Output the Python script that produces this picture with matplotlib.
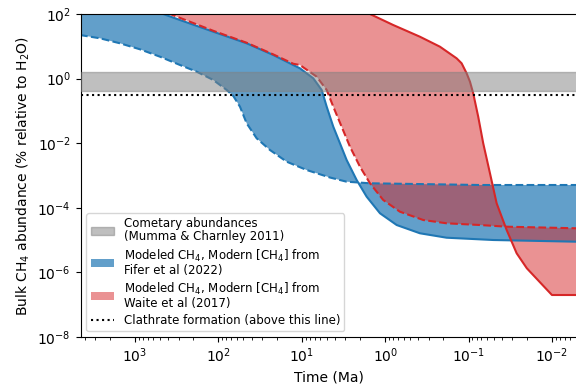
import numpy as np
import matplotlib
matplotlib.use("Agg")
import matplotlib.pyplot as plt
from matplotlib.ticker import FixedLocator, NullLocator, NullFormatter

# curves: log10(time in Ma) and log10(abundance in %)
fifer_lo_lt = [3.659, 3.420, 3.180, 2.940, 2.700, 2.460, 2.260, 2.061, 1.900, 1.821, 1.741, 1.661,
               1.541, 1.381, 1.181, 0.941, 0.662, 0.462, 0.182, -1.137, -2.301]
fifer_lo_ly = [1.350, 1.248, 1.093, 0.907, 0.678, 0.421, 0.214, -0.043, -0.353, -0.539, -0.870, -1.384,
               -1.848, -2.211, -2.573, -2.830, -3.062, -3.192, -3.241, -3.294, -3.294]

fifer_hi_lt = [3.659, 2.661, 2.460, 2.061, 1.661, 1.342, 1.102, 1.022, 0.862, 0.761, 0.701,
               0.622, 0.542, 0.462, 0.342, 0.222, 0.062, -0.138, -0.417, -0.737, -1.296, -2.301]
fifer_hi_ly = [2.867, 2.0, 1.814, 1.452, 1.093, 0.731, 0.421, 0.319, 0.009, -0.353, -0.870,
               -1.489, -2.003, -2.520, -3.139, -3.656, -4.170, -4.533, -4.789, -4.926, -4.997, -5.050]

waite_lo_lt = [3.659, 2.580, 2.061, 1.661, 1.342, 1.102, 1.022, 0.821, 0.701, 0.622, 0.522, 0.422,
               0.302, 0.182, 0.023, -0.177, -0.457, -0.737, -1.137, -1.457, -2.301]
waite_lo_ly = [2.96, 2.0, 1.48, 1.11, 0.75, 0.46, 0.421, 0.059, -0.353, -0.870, -1.489, -2.108,
               -2.728, -3.241, -3.759, -4.121, -4.378, -4.480, -4.533, -4.585, -4.635]

waite_hi_lt = [3.659, 1.0, 0.182, -0.097, -0.417, -0.657, -0.857, -0.917, -0.977, -1.017, -1.056,
               -1.116, -1.176, -1.257, -1.337, -1.457, -1.577, -1.699, -2.0, -2.301]
waite_hi_ly = [5.0, 3.0, 2.0, 1.659, 1.297, 0.988, 0.628, 0.474, 0.164, -0.096, -0.455,
               -1.180, -2.003, -2.932, -3.861, -4.687, -5.409, -5.873, -6.700, -6.700]

comet_range = [0.4, 1.6]
clathrate_level = 0.3


def to_lin(lt, ly):
    return 10.0 ** np.array(lt), 10.0 ** np.array(ly)


def band(ax, a, b, **kw):
    # polygon between two curves that do not share x values
    xs = np.concatenate([a[0], b[0][::-1]])
    ys = np.concatenate([a[1], b[1][::-1]])
    return ax.fill(xs, ys, **kw)[0]


f_lo = to_lin(fifer_lo_lt, fifer_lo_ly)
f_hi = to_lin(fifer_hi_lt, fifer_hi_ly)
w_lo = to_lin(waite_lo_lt, waite_lo_ly)
w_hi = to_lin(waite_hi_lt, waite_hi_ly)

fig = plt.figure(figsize=(5.76, 3.85), dpi=100)
ax = fig.add_axes([0.1398, 0.1247, 0.862, 0.8389])

h_comet = ax.axhspan(comet_range[0], comet_range[1], color='gray', alpha=0.5, zorder=3,
                     label='Cometary abundances\n(Mumma & Charnley 2011)')

h_blue = band(ax, f_hi, f_lo, color='C0', alpha=0.7, lw=0,
              label='Modeled CH$_4$, Modern [CH$_4$] from\nFifer et al (2022)')
ax.plot(*f_hi, color='C0', lw=1.5)
ax.plot(*f_lo, color='C0', lw=1.5, ls='--')

h_red = band(ax, w_hi, w_lo, color='C3', alpha=0.5, lw=0,
             label='Modeled CH$_4$, Modern [CH$_4$] from\nWaite et al (2017)')
ax.plot(*w_hi, color='C3', lw=1.5)
ax.plot(*w_lo, color='C3', lw=1.5, ls='--')

h_clath = ax.axhline(clathrate_level, color='k', ls=':', lw=1.5, zorder=4,
                     label='Clathrate formation (above this line)')

ax.set_xscale('log')
ax.set_yscale('log')
ax.set_xlim(4500, 0.005)
ax.set_ylim(1e-8, 1e2)
ax.xaxis.set_minor_formatter(NullFormatter())
ax.yaxis.set_major_locator(FixedLocator([1e-8, 1e-6, 1e-4, 1e-2, 1e0, 1e2]))
ax.yaxis.set_minor_locator(NullLocator())

ax.set_xlabel('Time (Ma)')
ax.set_ylabel('Bulk CH$_4$ abundance (% relative to H$_2$O)')

leg = ax.legend(handles=[h_comet, h_blue, h_red, h_clath], loc='lower left',
                fontsize=8.5, labelspacing=0.35, borderpad=0.35)
for t in leg.get_texts():
    t.set_linespacing(1.0)

fig.savefig('out.png', dpi=100)
